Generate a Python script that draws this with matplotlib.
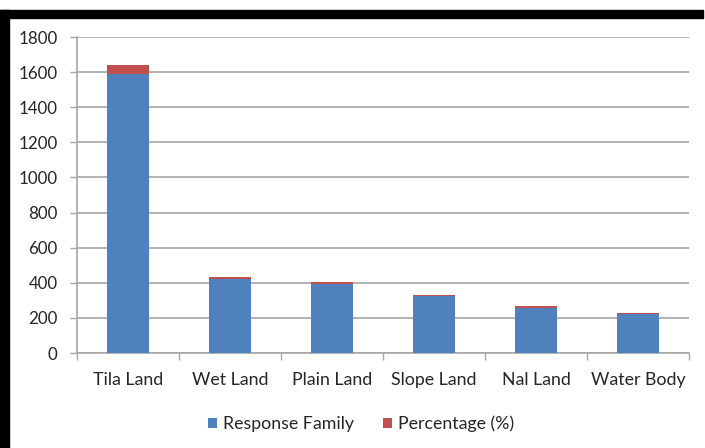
import matplotlib
matplotlib.use("Agg")
import matplotlib.pyplot as plt
from matplotlib.patches import Rectangle
import numpy as np

categories = ["Tila Land", "Wet Land", "Plain Land", "Slope Land", "Nal Land", "Water Body"]
response_family = [1588, 420, 395, 322, 258, 222]
percentage = [50, 13, 12, 10, 8, 7]
y_ticks = [0, 200, 400, 600, 800, 1000, 1200, 1400, 1600, 1800]

blue = "#4F81BD"
red = "#C0504D"
grid_col = "#A6A6A6"
text_col = "#262626"
fs = 12.8

plt.rcParams["font.family"] = ["Lato", "DejaVu Sans"]

fig = plt.figure(figsize=(7.05, 4.48), dpi=100)
ax = fig.add_axes([77 / 705, 1 - 353 / 448, (689 - 77) / 705, (353 - 37) / 448])

x = np.arange(len(categories))
ax.bar(x, response_family, width=0.41, color=blue, label="Response Family", zorder=3)
ax.bar(x, percentage, width=0.41, bottom=response_family, color=red,
       label="Percentage (%)", zorder=3)

ax.set_xlim(-0.5, len(categories) - 0.5)
ax.set_ylim(0, 1800)
ax.set_yticks(y_ticks)
ax.set_yticklabels([str(v) for v in y_ticks], fontsize=12.2, color=text_col)
ax.yaxis.grid(True, color=grid_col, linewidth=1.2, zorder=0)
ax.set_axisbelow(True)

ax.set_xticks(x)
ax.set_xticklabels(categories, fontsize=fs, color=text_col)
ax.set_xticks(np.arange(len(categories) + 1) - 0.5, minor=True)
ax.tick_params(axis="x", which="major", length=0, pad=14)
ax.tick_params(axis="x", which="minor", length=5, color=grid_col, width=1)
ax.tick_params(axis="y", length=5, color=grid_col, width=1, pad=9)

for side in ("top", "right"):
    ax.spines[side].set_visible(False)
for side in ("left", "bottom"):
    ax.spines[side].set_color(grid_col)
    ax.spines[side].set_linewidth(1.2)

leg = fig.legend(loc="center", bbox_to_anchor=(361 / 705, 1 - 424 / 448), ncol=2,
                 frameon=False, fontsize=fs, handlelength=0.5, handleheight=0.5,
                 handletextpad=0.35, columnspacing=1.6)
for t in leg.get_texts():
    t.set_color(text_col)

# black frame strips along the top and the left edge
fig.patches.append(Rectangle((0, 1 - 18 / 448), 703 / 705, 8 / 448,
                             transform=fig.transFigure, color="black", zorder=10))
fig.patches.append(Rectangle((0, 0), 9 / 705, 1 - 10 / 448,
                             transform=fig.transFigure, color="black", zorder=10))

fig.savefig("out.png", dpi=100)
